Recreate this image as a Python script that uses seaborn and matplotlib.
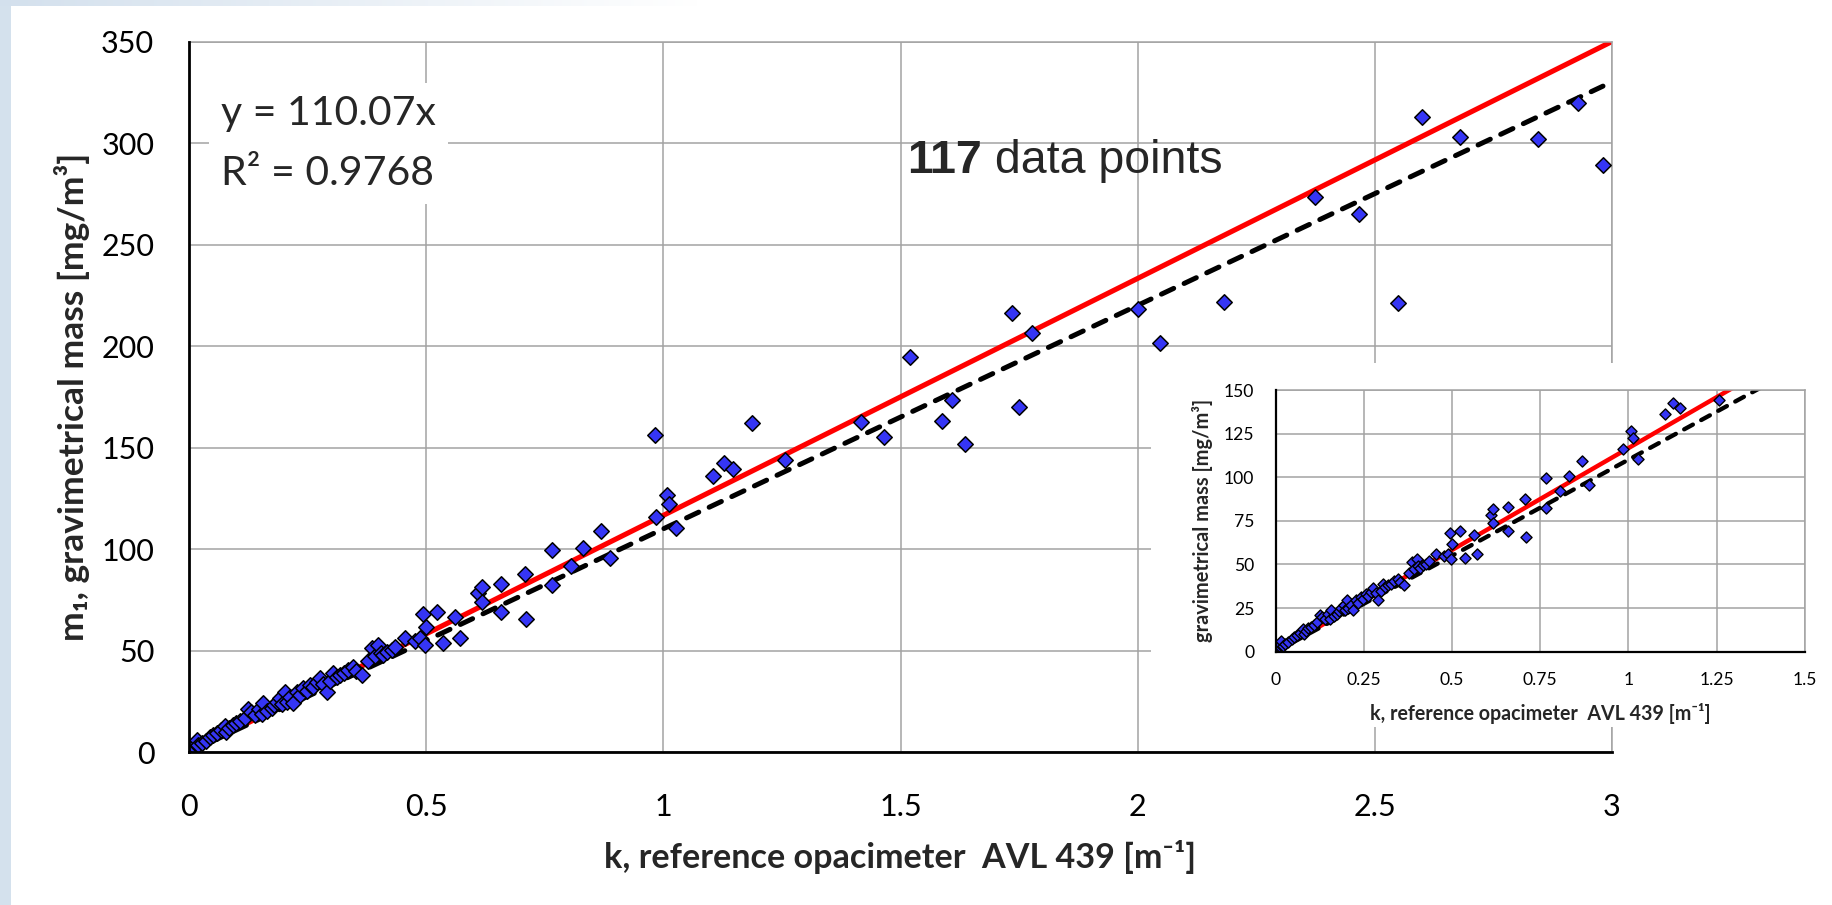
import numpy as np
import pandas as pd
import matplotlib
matplotlib.use("Agg")
import matplotlib.pyplot as plt
import seaborn as sns
from matplotlib.patches import Rectangle

# Opacity coefficient k [1/m] of the reference opacimeter
k_opacity = [
    0.000, 0.002, 0.005, 0.008, 0.013, 0.016, 0.020, 0.027, 0.035, 0.045,
    0.051, 0.060, 0.068, 0.076, 0.079, 0.085, 0.092, 0.100, 0.108, 0.118,
    0.125, 0.130, 0.140, 0.147, 0.153, 0.157, 0.165, 0.174, 0.180, 0.186,
    0.192, 0.197, 0.202, 0.206, 0.212, 0.220, 0.227, 0.234, 0.241, 0.248,
    0.255, 0.262, 0.270, 0.276, 0.283, 0.290, 0.297, 0.304, 0.311, 0.318,
    0.326, 0.336, 0.346, 0.352, 0.364, 0.378, 0.385, 0.392, 0.399, 0.404,
    0.410, 0.418, 0.427, 0.435, 0.455, 0.476, 0.487, 0.494, 0.498, 0.500,
    0.522, 0.536, 0.561, 0.571,
    0.610, 0.617, 0.617, 0.657, 0.657, 0.708, 0.710, 0.765, 0.765, 0.805,
    0.831, 0.868, 0.888, 0.982, 0.985, 1.008, 1.013, 1.027, 1.105, 1.127,
    1.146, 1.186, 1.257, 1.416, 1.466, 1.519, 1.588, 1.609, 1.636, 1.735,
    1.750, 1.777, 2.001, 2.047, 2.182, 2.374, 2.467, 2.548, 2.599, 2.680,
    2.845, 2.928, 2.981,
]

# Gravimetrical mass m1 [mg/m3]
m1_mass = [
    1.0, 2.5, 0.5, 3.0, 4.7, 6.0, 3.5, 4.7, 5.5, 7.5,
    8.5, 9.5, 11.0, 13.0, 10.2, 12.0, 13.5, 14.3, 15.5, 17.0,
    21.2, 20.0, 18.5, 21.5, 18.9, 24.1, 20.5, 21.7, 23.5, 25.0,
    26.6, 24.0, 29.9, 24.9, 27.0, 24.1, 29.9, 28.0, 31.5, 30.0,
    33.1, 32.0, 34.5, 36.4, 33.5, 29.9, 35.0, 38.9, 37.0, 38.1,
    39.0, 40.5, 41.9, 40.0, 38.1, 45.0, 51.2, 47.5, 52.9, 49.0,
    47.9, 49.5, 50.4, 52.0, 56.1, 55.0, 56.1, 68.1, 52.9, 61.9,
    69.3, 53.7, 66.8, 56.1,
    78.3, 81.6, 73.9, 82.9, 69.1, 87.8, 65.7, 99.6, 82.4, 91.9,
    100.5, 109.1, 95.6, 156.3, 116.0, 126.7, 122.3, 110.3, 136.2, 142.3,
    139.5, 162.0, 144.0, 162.7, 155.1, 194.9, 163.3, 173.5, 151.9, 216.5,
    169.9, 206.4, 218.2, 201.4, 221.9, 273.7, 265.0, 221.1, 313.1, 303.2,
    301.9, 320.0, 289.3,
]

# Linear fit through the origin and reference line
trend_slope = 110.07
trend_r2 = 0.9768
reference_slope = 116.7

main_xticks = [0, 0.5, 1, 1.5, 2, 2.5, 3]
main_yticks = [0, 50, 100, 150, 200, 250, 300, 350]
inset_xticks = [0, 0.25, 0.5, 0.75, 1, 1.25, 1.5]
inset_yticks = [0, 25, 50, 75, 100, 125, 150]

x_label = "k, reference opacimeter  AVL 439 [m\u207b\u00b9]"
y_label_main = "m\u2081, gravimetrical mass [mg/m\u00b3]"
y_label_inset = "gravimetrical mass [mg/m\u00b3]"

df = pd.DataFrame({"k": k_opacity, "m1": m1_mass})

sns.set_style("white")
plt.rcParams["font.family"] = ["Lato", "DejaVu Sans"]

W, H = 1832, 905
fig = plt.figure(figsize=(W / 100, H / 100), dpi=100)
fig.patch.set_facecolor("white")

# slide background edges
fig.add_artist(Rectangle((0, 0), 11 / W, 1, transform=fig.transFigure,
                         facecolor="#d4e1ed", edgecolor="none", zorder=-5))
grad = np.ones((6, 700, 4))
grad[..., 0] = 0.83
grad[..., 1] = 0.88
grad[..., 2] = 0.93
grad[..., 3] = np.linspace(1.0, 0.0, 700)[None, :]
fig.figimage(grad, xo=0, yo=H - 6, origin="upper", zorder=-4)

GRID = "#a3a3a3"
BLUE = "#3535f5"


def style_axes(ax, grid_lw, spine_lw):
    ax.grid(True, color=GRID, lw=grid_lw)
    ax.set_axisbelow(True)
    for s in ["top", "right"]:
        ax.spines[s].set_color(GRID)
        ax.spines[s].set_linewidth(grid_lw)
    for s in ["left", "bottom"]:
        ax.spines[s].set_color("black")
        ax.spines[s].set_linewidth(spine_lw)
        ax.spines[s].set_zorder(5)


def fmt(v):
    return f"{v:g}"


def fit_length(text, length_px, vertical=False):
    """Rescale a text so that its rendered length is length_px pixels."""
    renderer = fig.canvas.get_renderer()
    bb = text.get_window_extent(renderer)
    cur = bb.height if vertical else bb.width
    text.set_fontsize(text.get_fontsize() * length_px / cur)


# ---------------- main chart ----------------
ax = fig.add_axes([189 / W, 1 - 752.3 / H, (1612 - 189) / W, (752.3 - 41.7) / H])
ax.set_zorder(0)
ax.set_facecolor("white")

xs_ref = np.array([main_xticks[0], main_xticks[-1]])
ax.plot(xs_ref, reference_slope * xs_ref, color="#ff0000", lw=3.7,
        solid_capstyle="butt", zorder=2)
xs_fit = np.array([0.0, max(k_opacity)])
ax.plot(xs_fit, trend_slope * xs_fit, color="black", lw=3.6,
        dashes=(2.7, 2.3), dash_capstyle="round", zorder=2.5)
sns.scatterplot(data=df, x="k", y="m1", ax=ax, marker="D", s=62,
                color=BLUE, edgecolor="black", linewidth=1.1, zorder=3,
                legend=False)

ax.set_xlim(main_xticks[0], main_xticks[-1])
ax.set_ylim(main_yticks[0], main_yticks[-1])
ax.set_xticks(main_xticks)
ax.set_yticks(main_yticks)
ax.set_xticklabels([fmt(v) for v in main_xticks])
ax.set_yticklabels([fmt(v) for v in main_yticks])
style_axes(ax, 1.1, 2.0)
ax.tick_params(axis="both", length=0, labelsize=22, colors="black")
ax.tick_params(axis="x", pad=29)
ax.tick_params(axis="y", pad=25)
xl = ax.set_xlabel(x_label, fontsize=22, fontweight="bold")
yl = ax.set_ylabel(y_label_main, fontsize=24, fontweight="bold")
ax.xaxis.set_label_coords(0.5, -0.124)
ax.yaxis.set_label_coords(-0.0696, 0.5)

ax.text(0.0225, 0.7985,
        f"y = {trend_slope:.2f}x\nR\u00b2 = {trend_r2:.4f}",
        transform=ax.transAxes, fontsize=29.5, va="baseline", ha="left",
        linespacing=1.75, zorder=6,
        bbox=dict(boxstyle="square,pad=0.3", fc="white", ec="none"))

t1 = ax.text(1.515, 285.2, f"{len(k_opacity)}", fontsize=33.5,
             fontweight="bold", family=["Liberation Sans", "DejaVu Sans"],
             va="baseline", ha="left", zorder=6)
ax.annotate(" data points", xy=(1, 0), xycoords=t1, fontsize=33.5,
            family=["Liberation Sans", "DejaVu Sans"], va="bottom",
            ha="left", zorder=6)

# white panel behind the inset
fig.add_artist(Rectangle((1151 / W, 1 - 727 / H), 1 - 1151 / W, (727 - 363) / H,
                         transform=fig.transFigure, facecolor="white",
                         edgecolor="none", zorder=1))

# ---------------- inset (low range) ----------------
axi = fig.add_axes([1275.8 / W, 1 - 651.7 / H, (1804.8 - 1275.8) / W,
                    (651.7 - 390) / H])
axi.set_zorder(2)
axi.set_facecolor("white")
xs_ref_i = np.array([inset_xticks[0], inset_xticks[-1]])
axi.plot(xs_ref_i, reference_slope * xs_ref_i, color="#ff0000", lw=3.2,
         zorder=2)
axi.plot(xs_fit, trend_slope * xs_fit, color="black", lw=3.1,
         dashes=(2.3, 2.2), dash_capstyle="round", zorder=2.5)
sns.scatterplot(data=df, x="k", y="m1", ax=axi, marker="D", s=32,
                color=BLUE, edgecolor="black", linewidth=1.0, zorder=3,
                legend=False)
axi.set_xlim(inset_xticks[0], inset_xticks[-1])
axi.set_ylim(inset_yticks[0], inset_yticks[-1])
axi.set_xticks(inset_xticks)
axi.set_yticks(inset_yticks)
axi.set_xticklabels([fmt(v) for v in inset_xticks])
axi.set_yticklabels([fmt(v) for v in inset_yticks])
style_axes(axi, 1.1, 1.6)
axi.tick_params(axis="both", length=0, labelsize=12.6, colors="black")
axi.tick_params(axis="x", pad=14.5)
axi.tick_params(axis="y", pad=15.4)
xli = axi.set_xlabel(x_label, fontsize=12.5, fontweight="bold")
yli = axi.set_ylabel(y_label_inset, fontsize=13, fontweight="bold")
axi.xaxis.set_label_coords(0.5, -0.196)
axi.yaxis.set_label_coords(-0.119, 0.5)

# axis titles sized to their printed length
fit_length(xl, 591)
fit_length(yl, 489, vertical=True)
fit_length(xli, 341)
fit_length(yli, 243, vertical=True)

fig.savefig("out.png", dpi=100, facecolor="white")
